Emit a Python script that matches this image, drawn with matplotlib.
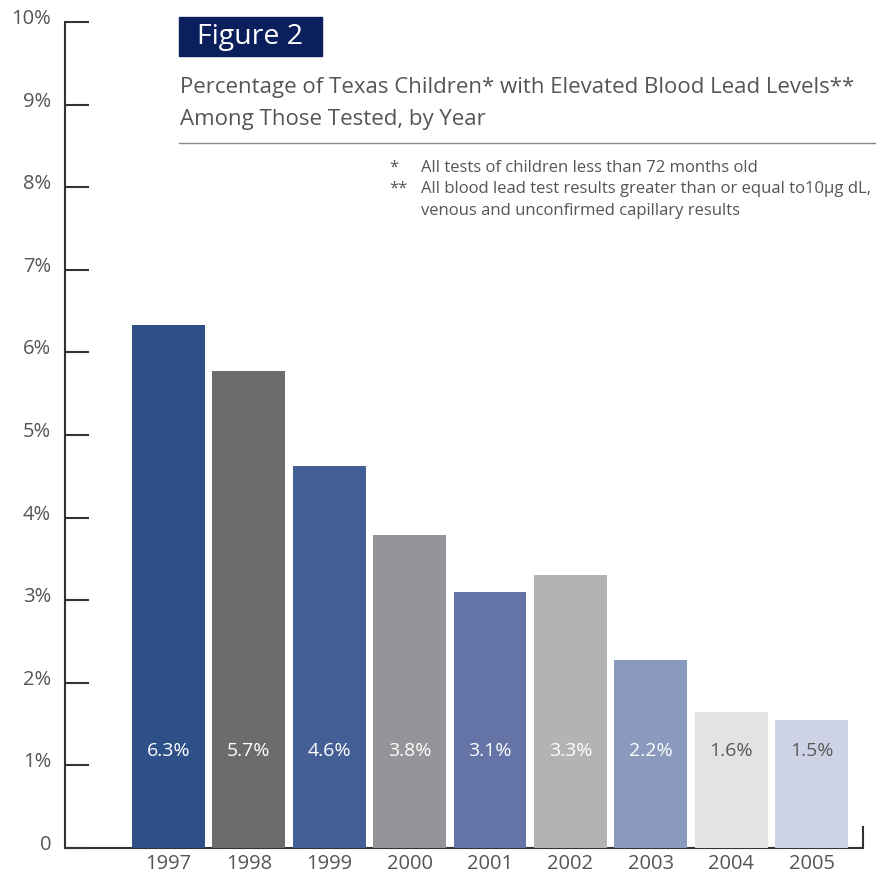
import matplotlib
matplotlib.use("Agg")
import matplotlib.pyplot as plt
from matplotlib.transforms import ScaledTranslation
from matplotlib.patches import Rectangle

years = ["1997", "1998", "1999", "2000", "2001", "2002", "2003", "2004", "2005"]
values = [6.33, 5.77, 4.63, 3.79, 3.10, 3.31, 2.28, 1.65, 1.55]
value_labels = ["6.3%", "5.7%", "4.6%", "3.8%", "3.1%", "3.3%", "2.2%", "1.6%", "1.5%"]
bar_colors = ["#2E5088", "#6B6C6E", "#445F95", "#939598", "#6474A6",
              "#B2B3B5", "#8A99BE", "#E2E3E5", "#CDD3E5"]
label_colors = ["white"] * 7 + ["#5A5A5A", "#5A5A5A"]
yticks = [0, 1, 2, 3, 4, 5, 6, 7, 8, 9, 10]
ytick_labels = ["0", "1%", "2%", "3%", "4%", "5%", "6%", "7%", "8%", "9%", "10%"]

FONT = "Open Sans"
TXT = "#555555"
plt.rcParams["font.family"] = [FONT, "DejaVu Sans"]

W, H = 892, 877
fig = plt.figure(figsize=(W / 100, H / 100), dpi=100)
ax = fig.add_axes([65 / W, (H - 848) / H, (863 - 65) / W, (848 - 22) / H])

x = list(range(len(years)))
ax.bar(x, values, width=0.905, color=bar_colors, zorder=3)
for xi, lab, c in zip(x, value_labels, label_colors):
    ax.text(xi, 1.18, lab, ha="center", va="center", color=c, fontsize=14, zorder=4)

ax.set_xlim(-1.287, 8.64)
ax.set_ylim(0, 10)
for s in ["top", "right"]:
    ax.spines[s].set_visible(False)
for s in ["left", "bottom"]:
    ax.spines[s].set_color("#333333")
    ax.spines[s].set_linewidth(1.5)
ax.plot([1, 1], [0, 0.025], transform=ax.transAxes, color="#333333", lw=1.5,
        clip_on=False, zorder=5)

ax.set_yticks(yticks)
ax.set_yticklabels(ytick_labels)
ax.tick_params(axis="y", direction="in", length=17, width=1.5, color="#333333",
               pad=10, labelsize=14.5, labelcolor=TXT)
for lab in ax.get_yticklabels():
    lab.set_transform(lab.get_transform() + ScaledTranslation(0, 4 / 72, fig.dpi_scale_trans))
ax.set_xticks(x)
ax.set_xticklabels(years)
ax.tick_params(axis="x", length=0, pad=4, labelsize=14.5, labelcolor=TXT)

# Header
fig.patches.append(Rectangle((179 / W, 1 - 56 / H), (322 - 179) / W, (56 - 17) / H,
                             transform=fig.transFigure, color="#0B1F5C", zorder=1))
fig.text(197 / W, 1 - 37 / H, "Figure 2", color="white", fontsize=20.5,
         va="center", ha="left")
fig.text(180 / W, 1 - 88 / H, "Percentage of Texas Children* with Elevated Blood Lead Levels**",
         color=TXT, fontsize=16, va="center", ha="left")
fig.text(180 / W, 1 - 119 / H, "Among Those Tested, by Year",
         color=TXT, fontsize=16, va="center", ha="left")
fig.add_artist(plt.Line2D([179 / W, 875 / W], [1 - 143 / H, 1 - 143 / H],
                          transform=fig.transFigure, color="#888888", lw=1))
fig.text(389 / W, 1 - 168 / H, "*", color=TXT, fontsize=12, va="center", ha="left")
fig.text(389 / W, 1 - 189 / H, "**", color=TXT, fontsize=12, va="center", ha="left")
fig.text(421 / W, 1 - 168 / H, "All tests of children less than 72 months old",
         color=TXT, fontsize=12, va="center", ha="left")
fig.text(421 / W, 1 - 189 / H, "All blood lead test results greater than or equal to10µg dL,",
         color=TXT, fontsize=12, va="center", ha="left")
fig.text(421 / W, 1 - 211 / H, "venous and unconfirmed capillary results",
         color=TXT, fontsize=12, va="center", ha="left")

fig.savefig("out.png", dpi=100)
